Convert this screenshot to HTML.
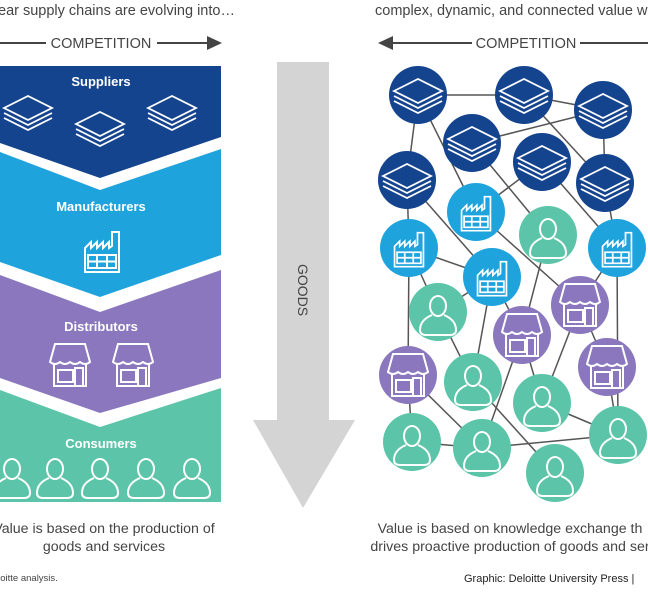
<!DOCTYPE html>
<html><head><meta charset="utf-8"><style>
html,body{margin:0;padding:0;background:#fff;}
svg{display:block;}
text{font-family:"Liberation Sans",sans-serif;}
</style></head><body>
<svg width="648" height="593" viewBox="0 0 648 593" xmlns="http://www.w3.org/2000/svg">
<defs>
<g id="lay" fill="none" stroke="#fff" stroke-width="1.8">
 <path d="M-24,-2 L0,-14 L24,-2 L0,10 Z"/>
 <path d="M-24,3 L0,15 L24,3"/>
 <path d="M-24,8 L0,20 L24,8"/>
</g>
<g id="fac" fill="none" stroke="#fff" stroke-width="2">
 <path d="M-17,22 V-2 L-11,-8 V-2 L-5,-8 V-2 L1,-8 V-2 L7,-8 V-2 L10,-4 V-18 H17 V22 Z"/>
 <rect x="-14" y="5" width="28" height="13"/>
 <path d="M-14,11.5 H14 M-5,5 V18 M5,5 V18"/>
</g>
<g id="sto" fill="none" stroke="#fff" stroke-width="2">
 <path d="M-20,-2 L-15,-20 H15 L20,-2 Q15,2 10,-2 Q5,2 0,-2 Q-5,2 -10,-2 Q-15,2 -20,-2 Z"/>
 <path d="M-16,0 V22 H16 V0"/>
 <rect x="-12" y="6" width="15" height="12"/>
 <rect x="5" y="4" width="8" height="18"/>
</g>
<g id="per" fill="none" stroke="#fff" stroke-width="2">
 <ellipse cx="0" cy="-8" rx="8" ry="10"/>
 <path d="M-6,1 Q-18,6 -18,16 Q-18,21 -12,21 H12 Q18,21 18,16 Q18,6 6,1"/>
</g>
</defs>

<text x="-2" y="15" font-size="14.5" fill="#444">ear supply chains are evolving into…</text>
<text x="375" y="15" font-size="14.5" fill="#444">complex, dynamic, and connected value w</text>

<g stroke="#444" stroke-width="2" fill="#444">
 <line x1="0" y1="43" x2="46" y2="43"/>
 <line x1="157" y1="43" x2="210" y2="43"/>
 <path d="M222,43 L207,36 L207,50 Z" stroke="none"/>
 <line x1="388" y1="43" x2="472" y2="43"/>
 <path d="M378,43 L393,36 L393,50 Z" stroke="none"/>
 <line x1="580" y1="43" x2="648" y2="43"/>
</g>
<text x="101" y="48" font-size="14.5" fill="#444" text-anchor="middle">COMPETITION</text>
<text x="526" y="48" font-size="14.5" fill="#444" text-anchor="middle">COMPETITION</text>

<path d="M0,66 H221 V137 L100,178 L0,143 Z" fill="#15448e"/>
<path d="M0,152 L100,190 L221,149 V255 L100,297 L0,262 Z" fill="#1fa3dd"/>
<path d="M0,275 L100,312 L221,270 V378 L100,413 L0,378 Z" fill="#8a77bd"/>
<path d="M0,390 L100,427 L221,388 V502 H0 Z" fill="#5cc4a8"/>
<g font-size="13" font-weight="bold" fill="#fff" text-anchor="middle">
<text x="101" y="86">Suppliers</text>
<text x="101" y="211">Manufacturers</text>
<text x="101" y="331">Distributors</text>
<text x="101" y="448">Consumers</text>
</g>
<use href="#lay" x="28" y="110"/>
<use href="#lay" x="100" y="126"/>
<use href="#lay" x="172" y="110"/>
<use href="#fac" x="102" y="250"/>
<use href="#sto" x="70" y="364"/>
<use href="#sto" x="133" y="364"/>
<use href="#per" x="12" y="477"/>
<use href="#per" x="55" y="477"/>
<use href="#per" x="100" y="477"/>
<use href="#per" x="146" y="477"/>
<use href="#per" x="192" y="477"/>

<path d="M277,62 H329 V420 H355 L303,508 L253,420 H277 Z" fill="#d4d4d4"/>
<text x="0" y="0" font-size="14" fill="#444" text-anchor="middle" transform="translate(298,290) rotate(90)">GOODS</text>

<g stroke="#555" stroke-width="1.5">
<line x1="418" y1="95" x2="524" y2="95"/>
<line x1="524" y1="95" x2="603" y2="110"/>
<line x1="603" y1="110" x2="472" y2="143"/>
<line x1="418" y1="95" x2="407" y2="180"/>
<line x1="418" y1="95" x2="476" y2="212"/>
<line x1="524" y1="95" x2="605" y2="183"/>
<line x1="603" y1="110" x2="605" y2="183"/>
<line x1="472" y1="143" x2="548" y2="235"/>
<line x1="542" y1="162" x2="476" y2="212"/>
<line x1="542" y1="162" x2="617" y2="248"/>
<line x1="407" y1="180" x2="409" y2="248"/>
<line x1="407" y1="180" x2="492" y2="277"/>
<line x1="409" y1="248" x2="492" y2="277"/>
<line x1="409" y1="248" x2="438" y2="312"/>
<line x1="409" y1="248" x2="408" y2="375"/>
<line x1="476" y1="212" x2="580" y2="305"/>
<line x1="605" y1="183" x2="617" y2="248"/>
<line x1="617" y1="248" x2="580" y2="305"/>
<line x1="617" y1="248" x2="618" y2="435"/>
<line x1="548" y1="235" x2="522" y2="335"/>
<line x1="492" y1="277" x2="438" y2="312"/>
<line x1="492" y1="277" x2="522" y2="335"/>
<line x1="492" y1="277" x2="473" y2="382"/>
<line x1="438" y1="312" x2="473" y2="382"/>
<line x1="580" y1="305" x2="542" y2="403"/>
<line x1="580" y1="305" x2="607" y2="367"/>
<line x1="522" y1="335" x2="542" y2="403"/>
<line x1="522" y1="335" x2="482" y2="448"/>
<line x1="408" y1="375" x2="412" y2="442"/>
<line x1="408" y1="375" x2="482" y2="448"/>
<line x1="473" y1="382" x2="555" y2="473"/>
<line x1="412" y1="442" x2="482" y2="448"/>
<line x1="482" y1="448" x2="618" y2="435"/>
<line x1="542" y1="403" x2="618" y2="435"/>
<line x1="607" y1="367" x2="618" y2="435"/>
</g>
<g>
<circle cx="418" cy="95" r="29" fill="#15448e"/><use href="#lay" x="418" y="93"/>
<circle cx="524" cy="95" r="29" fill="#15448e"/><use href="#lay" x="524" y="93"/>
<circle cx="603" cy="110" r="29" fill="#15448e"/><use href="#lay" x="603" y="108"/>
<circle cx="472" cy="143" r="29" fill="#15448e"/><use href="#lay" x="472" y="141"/>
<circle cx="542" cy="162" r="29" fill="#15448e"/><use href="#lay" x="542" y="160"/>
<circle cx="407" cy="180" r="29" fill="#15448e"/><use href="#lay" x="407" y="178"/>
<circle cx="605" cy="183" r="29" fill="#15448e"/><use href="#lay" x="605" y="181"/>
<circle cx="476" cy="212" r="29" fill="#1fa3dd"/><use href="#fac" x="476" y="212" transform="translate(476 212) scale(0.85) translate(-476 -212)"/>
<circle cx="409" cy="248" r="29" fill="#1fa3dd"/><use href="#fac" x="409" y="248" transform="translate(409 248) scale(0.85) translate(-409 -248)"/>
<circle cx="617" cy="248" r="29" fill="#1fa3dd"/><use href="#fac" x="617" y="248" transform="translate(617 248) scale(0.85) translate(-617 -248)"/>
<circle cx="492" cy="277" r="29" fill="#1fa3dd"/><use href="#fac" x="492" y="277" transform="translate(492 277) scale(0.85) translate(-492 -277)"/>
<circle cx="548" cy="235" r="29" fill="#5cc4a8"/><use href="#per" x="548" y="237"/>
<circle cx="438" cy="312" r="29" fill="#5cc4a8"/><use href="#per" x="438" y="314"/>
<circle cx="580" cy="305" r="29" fill="#8a77bd"/><use href="#sto" x="580" y="304"/>
<circle cx="522" cy="335" r="29" fill="#8a77bd"/><use href="#sto" x="522" y="334"/>
<circle cx="408" cy="375" r="29" fill="#8a77bd"/><use href="#sto" x="408" y="374"/>
<circle cx="607" cy="367" r="29" fill="#8a77bd"/><use href="#sto" x="607" y="366"/>
<circle cx="473" cy="382" r="29" fill="#5cc4a8"/><use href="#per" x="473" y="384"/>
<circle cx="542" cy="403" r="29" fill="#5cc4a8"/><use href="#per" x="542" y="405"/>
<circle cx="412" cy="442" r="29" fill="#5cc4a8"/><use href="#per" x="412" y="444"/>
<circle cx="482" cy="448" r="29" fill="#5cc4a8"/><use href="#per" x="482" y="450"/>
<circle cx="618" cy="435" r="29" fill="#5cc4a8"/><use href="#per" x="618" y="437"/>
<circle cx="555" cy="473" r="29" fill="#5cc4a8"/><use href="#per" x="555" y="475"/>
</g>

<g font-size="14.2" fill="#444" text-anchor="middle">
<text x="104" y="533">Value is based on the production of</text>
<text x="104" y="551">goods and services</text>
<text x="510" y="533">Value is based on knowledge exchange th</text>
<text x="510" y="551">drives proactive production of goods and ser</text>
</g>
<text x="-14" y="581" font-size="9.5" fill="#444">Deloitte analysis.</text>
<text x="464" y="582" font-size="11" fill="#222">Graphic: Deloitte University Press  |</text>
</svg>
</body></html>
